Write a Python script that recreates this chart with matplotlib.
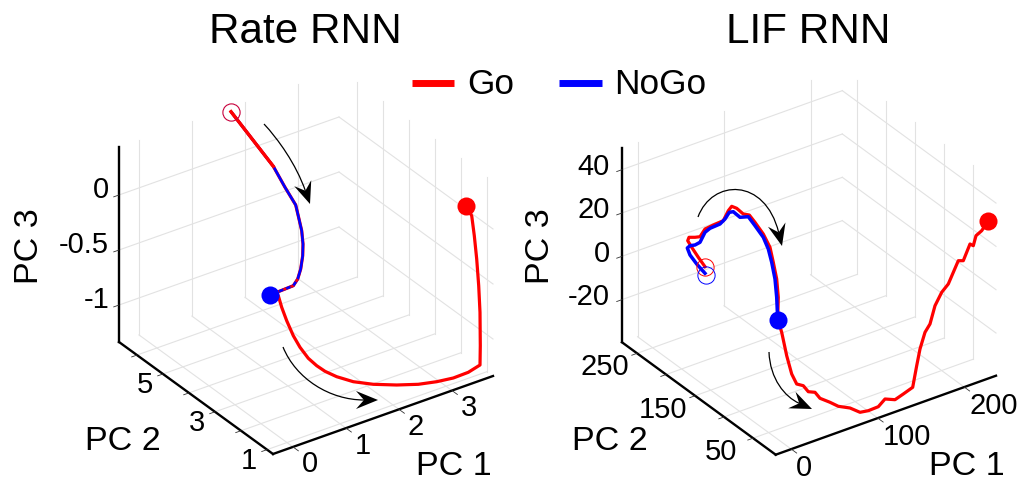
import matplotlib
matplotlib.use('Agg')
import matplotlib.pyplot as plt
import numpy as np
from matplotlib.lines import Line2D
from matplotlib.patches import PathPatch, Polygon
from matplotlib.path import Path

plt.rcParams['font.family'] = ['Liberation Sans', 'DejaVu Sans']

GO = '#ff0000'
NOGO = '#0000ff'

# Traces as seen in the view plane (picture pixels)
rate_go_x = [231, 273.3, 285, 295.7, 299, 301.7, 303, 302.7, 300.7, 297.7, 293.3, 283.3, 270,
             278.3, 281.7, 286.7, 293.3, 300, 308.3, 316.7, 325, 336.7, 353.3, 373.3, 396.7, 418.3,
             436.7, 453.3, 468.3, 480, 480.3, 480, 478.7, 476.7, 474.3, 471.7, 466]
rate_go_y = [112.7, 167.3, 188.3, 206, 220, 231.7, 245, 256.7, 270, 280, 286.7, 290.7, 296,
             296.7, 308.3, 321.7, 336.7, 348.3, 359.3, 366.7, 372.3, 377.7, 382.7, 385.3, 386, 385.3,
             382.7, 379, 373.3, 366, 346.7, 313.3, 286.7, 260, 236.7, 216.7, 207.3]
rate_nogo_x = [231, 273.3, 285, 295.7, 299, 301.7, 303, 302.7, 300.7, 297.7, 293.3, 283.3, 270]
rate_nogo_y = [112.7, 167.3, 188.3, 206, 220, 231.7, 245, 256.7, 270, 280, 286.7, 290.7, 296]

lif_go_x = [705, 698.3, 691.7, 687.7, 689, 695, 700, 705, 713.3, 723.3, 728.3, 731.7, 736.7, 743.3,
            749.3, 755, 763.3, 770, 773.3, 776.7, 778.3, 777.7, 781.7, 786.7, 791.7, 796.7, 803.3,
            808.3, 815, 820, 830, 838.3, 850, 860, 868.3, 878.3, 885, 895, 903.3, 912.7, 916.7, 920,
            925, 930, 935, 941.7, 948.3, 958.3, 963.3, 970, 973.3, 976, 981.7, 988.3]
lif_go_y = [267.7, 258.3, 248.3, 241.7, 238.3, 238.3, 237.7, 230, 226, 221.7, 211.7, 207.3, 209.3, 215,
            216, 223.3, 235, 248.3, 263.3, 280, 298.3, 320, 333.3, 356.7, 375, 385, 386.7,
            392.7, 393.3, 399.3, 403.3, 407.3, 409, 413.3, 411.7, 407.7, 400, 400.7, 395, 388.3, 366.7, 350,
            333.3, 325, 306.7, 293.3, 285, 261.7, 261.7, 245, 246.7, 236.7, 231.7, 221.7]
lif_nogo_x = [705, 696.7, 690, 687.3, 690, 695, 700, 705, 710, 720, 725, 729.3, 733.3, 740, 748.3, 755,
              763.3, 768.3, 771.7, 775, 776.7, 777.7]
lif_nogo_y = [274.3, 265, 256, 249, 246.7, 246, 243.3, 233.3, 229.3, 225, 220, 213.3, 212.7, 218.3,
              217.7, 226.7, 238.3, 250, 263.3, 280, 298.3, 321]

rate_pc1_ticks = [0, 1, 2, 3]
rate_pc2_ticks = [1, 2, 3, 4, 5, 6]
rate_pc2_labels = [1, 3, 5]
rate_pc3_ticks = [-1, -0.5, 0]
rate_pc3_labels = ['-1', '-0.5', '0']

lif_pc1_ticks = [0, 100, 200]
lif_pc2_ticks = [50, 100, 150, 200, 250]
lif_pc2_labels = [50, 150, 250]
lif_pc3_ticks = [-20, 0, 20, 40]
lif_pc3_labels = ['-20', '0', '20', '40']

# Box of each panel: limits and where its edges land in the picture
RATE_BOX = dict(origin=(273, 455), ex=(220, -78), ey=(-154, -112), ez=(0, -195),
                xlim=(-0.377, 3.774), ylim=(0.77, 6.69), zlim=(-1.336, 0.436))
LIF_BOX = dict(origin=(775.7, 455.7), ex=(220.3, -79), ey=(-153.7, -112.4), ez=(0, -194.3),
               xlim=(-18, 236.7), ylim=(11, 276), zlim=(-39.7, 50))


def project(box, pc1, pc2, pc3):
    """Orthographic view of a (PC1, PC2, PC3) point."""
    u = (pc1 - box['xlim'][0]) / (box['xlim'][1] - box['xlim'][0])
    v = (pc2 - box['ylim'][0]) / (box['ylim'][1] - box['ylim'][0])
    w = (pc3 - box['zlim'][0]) / (box['zlim'][1] - box['zlim'][0])
    o, ex, ey, ez = [np.array(box[k], dtype=float) for k in ('origin', 'ex', 'ey', 'ez')]
    return o + u * ex + v * ey + w * ez


def segment(ax, box, p, q, **kw):
    a, b = project(box, *p), project(box, *q)
    ax.plot([a[0], b[0]], [a[1], b[1]], **kw)


def draw_box(ax, box, xticks, yticks, zticks):
    x0, x1 = box['xlim']
    y0, y1 = box['ylim']
    z0, z1 = box['zlim']
    grid = dict(color='#e2e2e2', lw=0.8, zorder=1)
    for x in xticks:
        segment(ax, box, (x, y0, z0), (x, y1, z0), **grid)
        segment(ax, box, (x, y1, z0), (x, y1, z1), **grid)
    for y in yticks:
        segment(ax, box, (x0, y, z0), (x1, y, z0), **grid)
        segment(ax, box, (x1, y, z0), (x1, y, z1), **grid)
    for z in zticks:
        segment(ax, box, (x0, y1, z), (x1, y1, z), **grid)
        segment(ax, box, (x1, y1, z), (x1, y0, z), **grid)

    spine = dict(color='black', lw=1.7, zorder=2, solid_capstyle='projecting')
    segment(ax, box, (x1, y0, z0), (x0, y0, z0), **spine)
    segment(ax, box, (x0, y0, z0), (x0, y1, z0), **spine)
    segment(ax, box, (x0, y1, z0), (x0, y1, z1), **spine)

    # short tick marks leaving the spines
    tick = dict(color='#333333', lw=0.6, zorder=2)
    dx = 0.024 * (x1 - x0)
    dy = 0.035 * (y1 - y0)
    for x in xticks:
        segment(ax, box, (x, y0, z0), (x, y0 - dy, z0), **tick)
    for y in yticks:
        segment(ax, box, (x0, y, z0), (x0 - dx, y, z0), **tick)
    for z in zticks:
        segment(ax, box, (x0, y1, z), (x0 - dx, y1, z), **tick)


def draw_arrow(ax, pts):
    """Thin curved arrow with a notched head, pts are the four Bezier controls."""
    pts = np.array(pts, dtype=float)
    d = pts[3] - pts[2]
    d = d / np.hypot(*d)
    n = np.array([-d[1], d[0]])
    tip = pts[3]
    neck = tip - 14 * d
    line = Path([pts[0], pts[1], pts[2], neck + 0.1 * d],
                [Path.MOVETO, Path.CURVE4, Path.CURVE4, Path.CURVE4])
    ax.add_patch(PathPatch(line, fc='none', ec='black', lw=0.9, zorder=5))
    head = [tip, tip - 22 * d + 9 * n, neck, tip - 22 * d - 9 * n]
    ax.add_patch(Polygon(head, closed=True, fc='black', ec='none', zorder=5))


fig = plt.figure(figsize=(10.21, 4.85), dpi=100)
ax1 = fig.add_axes([0, 0, 0.5, 1])
ax2 = fig.add_axes([0.5, 0, 0.5, 1])
ax1.set_xlim(0, 510.5)
ax2.set_xlim(510.5, 1021)
for ax in (ax1, ax2):
    ax.set_ylim(485, 0)
    ax.axis('off')

TICK_FS = 21
LABEL_FS = 24.5

# Rate RNN
draw_box(ax1, RATE_BOX, rate_pc1_ticks, rate_pc2_ticks, rate_pc3_ticks)
ax1.plot(rate_go_x, rate_go_y, color=GO, lw=2.3, zorder=3)
ax1.plot(rate_nogo_x, rate_nogo_y, color=NOGO, lw=1.9, zorder=3.1, solid_capstyle='butt')
ax1.plot(rate_go_x[:2], rate_go_y[:2], color=GO, lw=2.3, zorder=3.2)
ax1.plot(rate_go_x[9:13], rate_go_y[9:13], color=GO, lw=1.6, ls=(0, (1.5, 2)), zorder=3.2)
ax1.plot(rate_nogo_x[0], rate_nogo_y[0], 'o', mfc='none', mec='#c8003c', ms=12.4, mew=0.8, zorder=4)
ax1.plot(rate_go_x[-1], rate_go_y[-1], 'o', color=GO, ms=13, mew=0, zorder=4)
ax1.plot(rate_nogo_x[-1], rate_nogo_y[-1], 'o', color=NOGO, ms=13, mew=0, zorder=4)
draw_arrow(ax1, [(264, 125), (278, 140), (296, 165), (310, 205)])
draw_arrow(ax1, [(283, 348), (296, 380), (330, 401), (378, 401)])

for x, s in zip(rate_pc1_ticks, rate_pc1_ticks):
    px, py = project(RATE_BOX, x, RATE_BOX['ylim'][0], RATE_BOX['zlim'][0])
    ax1.text(px + 8.5, py + 16.5, str(s), fontsize=TICK_FS, ha='left', va='center')
for y in rate_pc2_labels:
    px, py = project(RATE_BOX, RATE_BOX['xlim'][0], y, RATE_BOX['zlim'][0])
    ax1.text(px - 18, py + 10, str(y), fontsize=TICK_FS, ha='center', va='center')
for z, s in zip(rate_pc3_ticks, rate_pc3_labels):
    px, py = project(RATE_BOX, RATE_BOX['xlim'][0], RATE_BOX['ylim'][1], z)
    ax1.text(px - 10, py - 6, s, fontsize=TICK_FS, ha='right', va='center')
ax1.text(454, 467, 'PC 1', fontsize=LABEL_FS, ha='center', va='center')
ax1.text(123, 442, 'PC 2', fontsize=LABEL_FS, ha='center', va='center')
ax1.text(29.5, 246, 'PC 3', fontsize=LABEL_FS, ha='center', va='center', rotation=90)
ax1.set_title('Rate RNN', fontsize=30.4, x=305.5 / 510.5, y=1 - 43 / 485, pad=0)

# LIF RNN
draw_box(ax2, LIF_BOX, lif_pc1_ticks, lif_pc2_ticks, lif_pc3_ticks)
ax2.plot(lif_go_x, lif_go_y, color=GO, lw=2.3, zorder=3)
ax2.plot(lif_nogo_x, lif_nogo_y, color=NOGO, lw=2.5, zorder=3.1)
ax2.plot(lif_go_x[0], lif_go_y[0], 'o', mfc='none', mec=GO, ms=12.4, mew=0.7, zorder=4)
ax2.plot(lif_nogo_x[0] + 1, lif_nogo_y[0] + 1.4, 'o', mfc='none', mec=NOGO, ms=12.4, mew=0.7, zorder=4)
ax2.plot(lif_go_x[-1], lif_go_y[-1], 'o', color=GO, ms=13, mew=0, zorder=4)
ax2.plot(lif_nogo_x[-1], lif_nogo_y[-1], 'o', color=NOGO, ms=13, mew=0, zorder=4)
draw_arrow(ax2, [(698, 218), (712, 180), (765, 178), (782, 247)])
draw_arrow(ax2, [(769, 353), (770, 380), (785, 398), (812, 410)])

for x in lif_pc1_ticks:
    px, py = project(LIF_BOX, x, LIF_BOX['ylim'][0], LIF_BOX['zlim'][0])
    ax2.text(px + 5, py + 17.5, str(x), fontsize=TICK_FS, ha='left', va='center')
for y in lif_pc2_labels:
    px, py = project(LIF_BOX, LIF_BOX['xlim'][0], y, LIF_BOX['zlim'][0])
    ax2.text(px - 32, py + 13, str(y), fontsize=TICK_FS, ha='center', va='center')
for z, s in zip(lif_pc3_ticks, lif_pc3_labels):
    px, py = project(LIF_BOX, LIF_BOX['xlim'][0], LIF_BOX['ylim'][1], z)
    ax2.text(px - 12, py - 3.7, s, fontsize=TICK_FS, ha='right', va='center')
ax2.text(967, 467, 'PC 1', fontsize=LABEL_FS, ha='center', va='center')
ax2.text(610, 442, 'PC 2', fontsize=LABEL_FS, ha='center', va='center')
ax2.text(540, 246, 'PC 3', fontsize=LABEL_FS, ha='center', va='center', rotation=90)
ax2.set_title('LIF RNN', fontsize=30.4, x=(808.5 - 510.5) / 510.5, y=1 - 43 / 485, pad=0)

handles = [Line2D([], [], color=GO, lw=5, solid_capstyle='butt'),
           Line2D([], [], color=NOGO, lw=5, solid_capstyle='butt')]
leg = fig.legend(handles, ['Go', 'NoGo'], ncol=2, frameon=False, fontsize=25.4,
                 loc='center', bbox_to_anchor=(559 / 1021, 1 - 84 / 485),
                 handlelength=1.21, handletextpad=0.36, columnspacing=1.27,
                 borderpad=0, borderaxespad=0)
# the handles sit a little low in the original
for line in leg.get_lines():
    line.set_ydata(np.asarray(line.get_ydata()) - 2)

fig.savefig('out.png', dpi=100)
